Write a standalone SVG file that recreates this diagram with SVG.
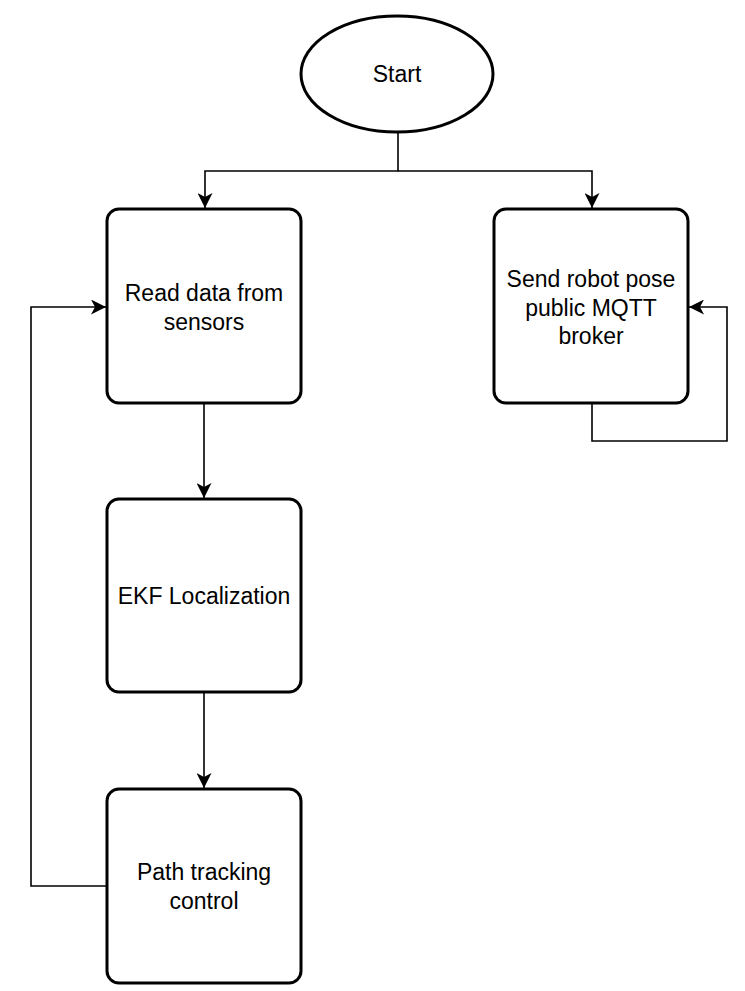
<svg xmlns="http://www.w3.org/2000/svg" width="745" height="991" viewBox="0 0 745 991">
<style>
.n{fill:#fff;stroke:#000;stroke-width:3}
.t{font-family:"Liberation Sans",Arial,sans-serif;font-size:23px;fill:#000;text-anchor:middle}
.c{fill:none;stroke:#000;stroke-width:1.6}
</style>
<defs>
<marker id="a" viewBox="0 0 15 15" refX="15" refY="7.5" markerWidth="15" markerHeight="15" markerUnits="userSpaceOnUse" orient="auto">
<path d="M0,0 L15,7.5 L0,15 L4,7.5 Z" fill="#000"/>
</marker>
</defs>
<rect width="745" height="991" fill="#fff"/>
<g id="connectors">
<path class="c" d="M398,132 V171 H205 V208" marker-end="url(#a)"/>
<path class="c" d="M398,171 H592 V208" marker-end="url(#a)"/>
<path class="c" d="M204,402 V498" marker-end="url(#a)"/>
<path class="c" d="M204,691 V788" marker-end="url(#a)"/>
<path class="c" d="M107,886 H31 V307 H106" marker-end="url(#a)"/>
<path class="c" d="M592,402 V441 H727 V307 H689" marker-end="url(#a)"/>
</g>
<g id="start">
<ellipse class="n" cx="397" cy="74" rx="96" ry="58"/>
<text class="t" x="397" y="82">Start</text>
</g>
<g id="read">
<rect class="n" x="107" y="209" width="194" height="194" rx="12"/>
<text class="t" x="204" y="301">Read data from</text>
<text class="t" x="204" y="330">sensors</text>
</g>
<g id="send">
<rect class="n" x="494" y="209" width="194" height="194" rx="12"/>
<text class="t" x="591" y="287">Send robot pose</text>
<text class="t" x="591" y="316">public MQTT</text>
<text class="t" x="591" y="344">broker</text>
</g>
<g id="ekf">
<rect class="n" x="107" y="499" width="194" height="193" rx="12"/>
<text class="t" x="204" y="604">EKF Localization</text>
</g>
<g id="path">
<rect class="n" x="107" y="789" width="194" height="194" rx="12"/>
<text class="t" x="204" y="880">Path tracking</text>
<text class="t" x="204" y="909">control</text>
</g>
</svg>
